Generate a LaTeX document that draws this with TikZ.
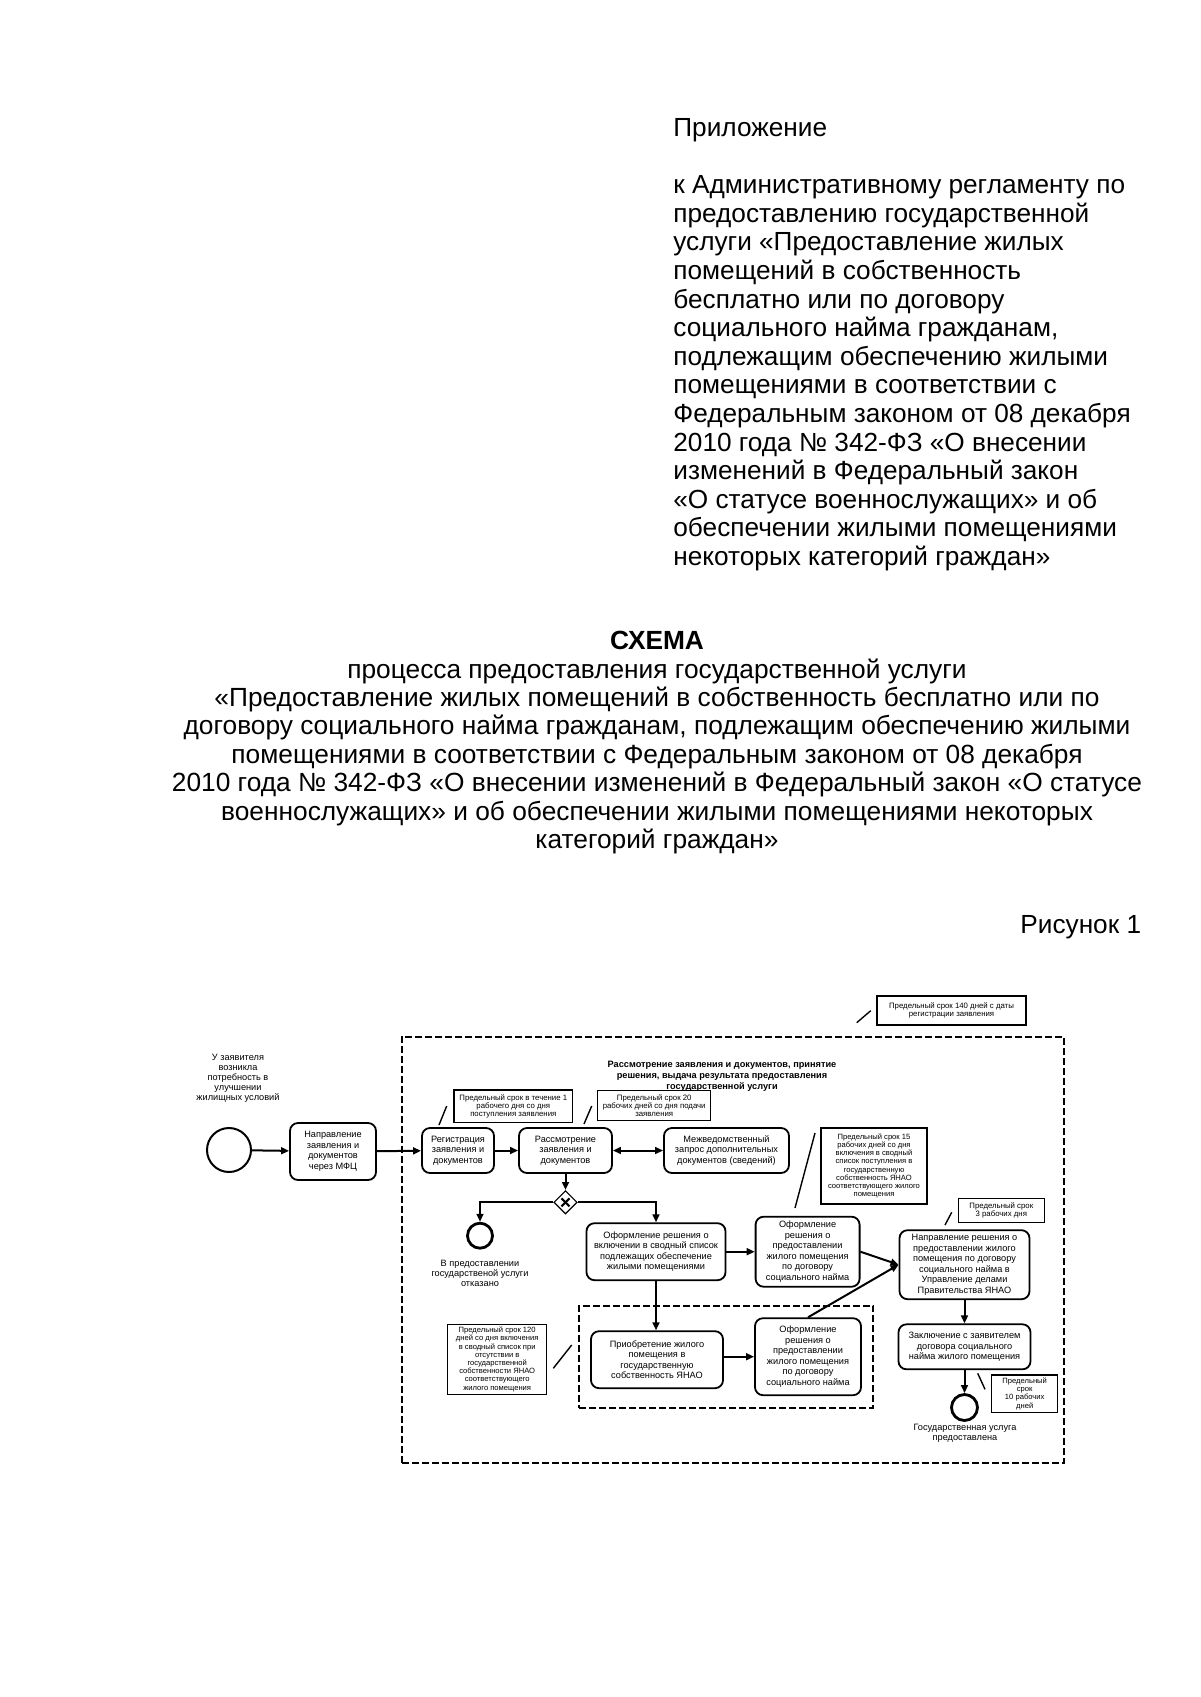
\documentclass[tikz,border=0pt]{standalone}
\usepackage{fontspec}
\setmainfont{Liberation Sans}
\usetikzlibrary{shapes.geometric,arrows.meta,calc}
\tikzset{
 task/.style={draw, line width=0.9pt, rounded corners=4pt, align=center, inner sep=1pt, font=\fontsize{4.6}{5.25}\selectfont},
 note/.style={draw, line width=0.6pt, align=center, inner sep=1pt},
 notefont/.style={font=\fontsize{3.9}{4.1}\selectfont},
 notefontsm/.style={font=\fontsize{3.8}{4.1}\selectfont},
 flow/.style={line width=1pt, -{Triangle[length=4pt,width=3.4pt]}},
 biflow/.style={line width=1pt, {Triangle[length=4pt,width=3.4pt]}-{Triangle[length=4pt,width=3.4pt]}},
 assoc/.style={line width=0.7pt},
 lbl/.style={align=center, inner sep=0pt, font=\fontsize{4.6}{5}\selectfont},
 grp/.style={draw, line width=1pt, dash pattern=on 3.5pt off 1.5pt},
 event/.style={circle, draw, line width=1pt, inner sep=0pt},
}
\begin{document}
\begin{tikzpicture}[x=0.5pt,y=-0.5pt]
\useasboundingbox (0,0) rectangle (1200,1697);
\fill[white] (0,0) rectangle (1200,1697);

% header
\node[anchor=north west, inner sep=0pt, align=left, font=\fontsize{13.1}{14.3}\selectfont] (hdr) at (673,118) {Приложение\\[14.3pt]
к Административному регламенту по\\
предоставлению государственной\\
услуги «Предоставление жилых\\
помещений в собственность\\
бесплатно или по договору\\
социального найма гражданам,\\
подлежащим обеспечению жилыми\\
помещениями в соответствии с\\
Федеральным законом от 08 декабря\\
2010 года № 342-ФЗ «О внесении\\
изменений в Федеральный закон\\
«О статусе военнослужащих» и об\\
обеспечении жилыми помещениями\\
некоторых категорий граждан»};

% title
\node[anchor=north, inner sep=0pt, align=center, font=\fontsize{13.15}{14.2}\selectfont] (ttl) at (657,631) {\textbf{СХЕМА}\\
процесса предоставления государственной услуги\\
«Предоставление жилых помещений в собственность бесплатно или по\\
договору социального найма гражданам, подлежащим обеспечению жилыми\\
помещениями в соответствии с Федеральным законом от 08 декабря\\
2010 года № 342-ФЗ «О внесении изменений в Федеральный закон «О статусе\\
военнослужащих» и об обеспечении жилыми помещениями некоторых\\
категорий граждан»};

\node[anchor=east, inner sep=0pt, font=\fontsize{13.1}{14.2}\selectfont] (fig) at (1141.5,927) {Рисунок 1};

% groups
\node[grp, minimum width=331.15pt, minimum height=213pt, inner sep=0pt] (outer) at (732.85,1249.7) {};
\node[grp, minimum width=147.15pt, minimum height=51pt, inner sep=0pt] (inner) at (726.15,1356.7) {};
\node[align=center, inner sep=0pt, font=\bfseries\fontsize{4.6}{5.4}\selectfont] (gtitle) at (722,1076.5) {Рассмотрение заявления и документов, принятие\\решения, выдача результата предоставления\\государственной услуги};

% events and tasks
\node[event, minimum size=22pt] (start) at (229,1150) {};
\node[lbl] (startl) at (238,1078) {У заявителя\\возникла\\потребность в\\улучшении\\жилищных условий};
\node[task, minimum width=43pt, minimum height=28.5pt] (mfc) at (333,1151.5) {Направление\\заявления и\\документов\\через МФЦ};
\node[task, minimum width=36pt, minimum height=22.5pt] (reg) at (458,1150.5) {Регистрация\\заявления и\\документов};
\node[task, minimum width=46.5pt, minimum height=22.5pt] (rass) at (565.5,1150.5) {Рассмотрение\\заявления и\\документов};
\node[task, minimum width=62.5pt, minimum height=22.5pt] (mezh) at (726.5,1150.5) {Межведомственный\\запрос дополнительных\\документов (сведений)};
\node[diamond, draw, line width=0.6pt, minimum width=11.7pt, minimum height=11.7pt, inner sep=0pt,
  path picture={\draw[line width=1.1pt] ($(path picture bounding box.center)+(-4,-4)$) -- ($(path picture bounding box.center)+(4,4)$);
                \draw[line width=1.1pt] ($(path picture bounding box.center)+(-4,4)$) -- ($(path picture bounding box.center)+(4,-4)$);}] (gw) at (565.5,1202.3) {};
\node[event, line width=1.4pt, minimum size=12.5pt] (end1) at (480,1235.7) {};
\node[lbl] (end1l) at (480,1273) {В предоставлении\\государственой услуги\\отказано};
\node[task, minimum width=69.5pt, minimum height=28.5pt] (vkl) at (656,1251.7) {Оформление решения о\\включении в сводный список\\подлежащих обеспечение\\жилыми помещениями};
\node[task, minimum width=52pt, minimum height=35pt] (ofA) at (807.6,1251.7) {Оформление\\решения о\\предоставлении\\жилого помещения\\по договору\\социального найма};
\node[task, minimum width=65pt, minimum height=34.5pt] (napr) at (964.5,1264.7) {Направление решения о\\предоставлении жилого\\помещения по договору\\социального найма  в\\Управление делами\\Правительства ЯНАО};
\node[task, minimum width=66pt, minimum height=22.5pt] (zakl) at (964.5,1346.8) {Заключение с заявителем\\договора социального\\найма жилого помещения};
\node[event, line width=1.4pt, minimum size=13pt] (end2) at (964.5,1407.5) {};
\node[lbl] (end2l) at (965,1433) {Государственная услуга\\предоставлена};
\node[task, minimum width=66pt, minimum height=28.5pt] (prio) at (657,1359.7) {Приобретение жилого\\помещения в\\государственную\\собственность ЯНАО};
\node[task, minimum width=53pt, minimum height=38.5pt] (ofB) at (808,1356.7) {Оформление\\решения о\\предоставлении\\жилого помещения\\по договору\\социального найма};

% annotations
\node[note, notefont, minimum width=74.5pt, minimum height=14.5pt] (ann0) at (951.5,1010.5) {Предельный срок 140 дней с даты\\регистрации заявления};
\node[note, notefont, minimum width=59.3pt, minimum height=16.3pt] (ann1) at (513.3,1106.3) {Предельный срок в течение 1\\рабочего дня со дня\\поступления заявления};
\node[note, notefont, minimum width=56.5pt, minimum height=15pt] (ann2) at (654.2,1105.7) {Предельный срок 20\\рабочих дней со дня подачи\\заявления};
\node[note, notefontsm, minimum width=53pt, minimum height=38pt] (ann4) at (874,1166) {Предельный срок 15\\рабочих дней со дня\\включения в сводный\\список поступления в\\государственную\\собственность ЯНАО\\соответствующего жилого\\помещения};
\node[note, notefont, minimum width=43pt, minimum height=12.2pt] (ann5) at (1001.3,1210.5) {Предельный срок\\3 рабочих дня};
\node[note, notefontsm, minimum width=49.5pt, minimum height=35pt] (ann6) at (497.2,1359.3) {Предельный срок 120\\дней со дня включения\\в сводный список при\\отсутствии в\\государственной\\собственности ЯНАО\\соответствующего\\жилого помещения};
\node[note, notefontsm, minimum width=33pt, minimum height=18.8pt] (ann7) at (1024.7,1393.8) {Предельный\\срок\\10 рабочих\\дней};

% association lines
\coordinate (a0a) at (856.7,1022.7); \coordinate (a0b) at (870.7,1010.7);
\coordinate (a1a) at (439,1125);     \coordinate (a1b) at (446.7,1106);
\coordinate (a2a) at (584,1124);     \coordinate (a2b) at (591.7,1106);
\coordinate (a4a) at (795,1208);     \coordinate (a4b) at (815,1133);
\coordinate (a5a) at (945,1225);     \coordinate (a5b) at (951.7,1212.3);
\coordinate (a6a) at (553.3,1368.3); \coordinate (a6b) at (571.7,1345);
\coordinate (a7a) at (977.7,1373.3); \coordinate (a7b) at (985,1389.3);
\foreach \n in {0,1,2,4,5,6,7} {\draw[assoc] (a\n a) -- (a\n b);}

% flows
\draw[flow] (start) -- (mfc);
\draw[flow] (mfc) -- (reg);
\draw[flow] (reg) -- (rass);
\draw[biflow] (rass) -- (mezh);
\draw[flow] (rass) -- (gw);
\draw[flow] (gw.west) -| (end1.north);
\draw[flow] (gw.east) -| (vkl.north);
\draw[flow] (vkl) -- (ofA);
\draw[flow] (vkl.south) -- (vkl.south |- prio.north);
\draw[flow] (prio.east |- ofB.west) -- (ofB.west);
\draw[flow] (ofA.east) -- (napr.west);
\draw[flow] (ofB.north) -- (napr.west);
\draw[flow] (napr) -- (zakl);
\draw[flow] (zakl) -- (end2);
\end{tikzpicture}
\end{document}
